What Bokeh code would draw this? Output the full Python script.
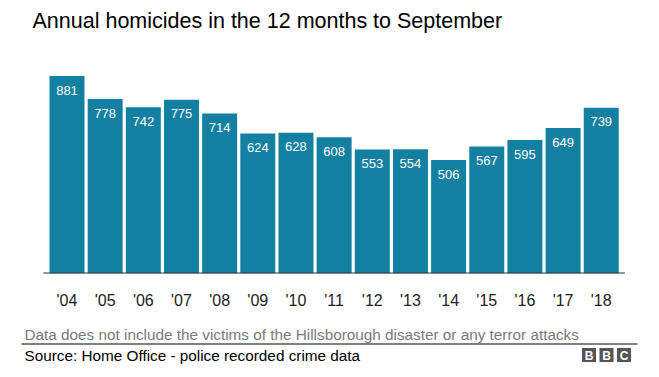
from bokeh.plotting import figure
from bokeh.layouts import column
from bokeh.models import ColumnDataSource, FixedTicker, Range1d
from bokeh.core.properties import value
from bokeh.embed import file_html
from bokeh.resources import INLINE

years = ["'04", "'05", "'06", "'07", "'08", "'09", "'10", "'11", "'12", "'13", "'14", "'15", "'16", "'17", "'18"]
homicides = [881, 778, 742, 775, 714, 624, 628, 608, 553, 554, 506, 567, 595, 649, 739]

title_text = "Annual homicides in the 12 months to September"
note_text = "Data does not include the victims of the Hillsborough disaster or any terror attacks"
source_text = "Source: Home Office - police recorded crime data"
logo_letters = ["B", "B", "C"]

FONT = "Liberation Sans"
W = 659
HEAD_H, MAIN_H, FOOT_H = 45, 280, 52
PITCH = 38.16        # px per category
FIRST_CENTER = 66.5  # px of first bar centre
FT_LOCAL, FB_LOCAL = 15, 228  # frame top/bottom inside main figure


def blank(h):
    f = figure(width=W, height=h, output_backend="svg", toolbar_location=None,
               x_range=Range1d(0, W), y_range=Range1d(h, 0),
               x_axis_location=None, y_axis_location=None, min_border=0)
    f.outline_line_color = None
    f.grid.visible = False
    return f


# header
head = blank(HEAD_H)
head.text(x=[32], y=[20], text=[title_text], text_font=value(FONT),
          text_font_size="21.5px", text_color="#000000", text_baseline="middle")

# main chart
n = len(years)
xs = list(range(n))
src = ColumnDataSource(dict(x=xs, top=homicides, lab=[str(v) for v in homicides]))
y_end = (FB_LOCAL - FT_LOCAL) / (197.5 / 881)
x_start = -FIRST_CENTER / PITCH
x_end = x_start + W / PITCH

p = figure(width=W, height=MAIN_H, output_backend="svg", toolbar_location=None,
           x_range=(x_start, x_end), y_range=(0, y_end),
           y_axis_location=None,
           min_border_left=0, min_border_right=0,
           min_border_top=FT_LOCAL, min_border_bottom=MAIN_H - FB_LOCAL)
p.outline_line_color = None
p.grid.visible = False

p.vbar(x="x", top="top", width=0.917, bottom=0, source=src,
       fill_color="#1380A1", line_color=None)
p.text(x="x", y="top", text="lab", source=src, text_color="white",
       text_font_size="13px", text_align="center", text_baseline="middle",
       y_offset=14, text_font=value(FONT))
# baseline under the bars
p.segment(x0=[-0.62], y0=[0], x1=[n - 0.38], y1=[0], line_color="#333333", line_width=2)

ax = p.xaxis[0]
ax.ticker = FixedTicker(ticks=xs)
ax.major_label_overrides = {i: y for i, y in enumerate(years)}
ax.axis_line_color = None
ax.major_tick_line_color = None
ax.minor_tick_line_color = None
ax.major_label_text_font_size = "16px"
ax.major_label_text_font = FONT
ax.major_label_text_color = "#222222"
ax.major_label_standoff = 12

# footer (local y = canvas y - 325)
foot = blank(FOOT_H)
foot.text(x=[24], y=[8.5], text=[note_text], text_font=value(FONT),
          text_font_size="15.3px", text_color="#7a7a7a", text_baseline="middle")
foot.segment(x0=[21], y0=[18.5], x1=[637], y1=[18.5], line_color="#000000", line_width=1)
foot.text(x=[24], y=[30], text=[source_text], text_font=value(FONT),
          text_font_size="15.3px", text_color="#000000", text_baseline="middle")
lx = [588.5 + i * 17.5 for i in range(len(logo_letters))]
foot.rect(x=lx, y=[29.5] * 3, width=14, height=14, fill_color="#555555", line_color=None)
foot.text(x=lx, y=[30] * 3, text=logo_letters, text_font=value(FONT),
          text_font_size="12px", text_font_style="bold", text_color="white",
          text_align="center", text_baseline="middle")

layout = column(head, p, foot, spacing=0)
open("out.html", "w").write(file_html(layout, INLINE))
